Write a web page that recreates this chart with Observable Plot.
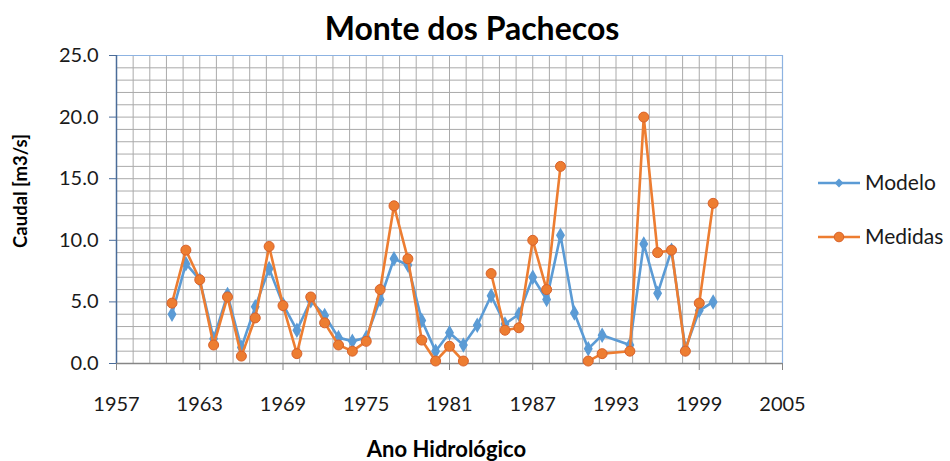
<!DOCTYPE html>
<html>
<head>
<meta charset="utf-8">
<script src="https://cdn.jsdelivr.net/npm/d3@7"></script>
<script src="https://cdn.jsdelivr.net/npm/@observablehq/plot@0.6"></script>
<style>
  html, body { margin: 0; padding: 0; background: #fff; }
  #chart svg { display: block; }
</style>
</head>
<body>
<div id="chart"></div>
<script>
// ---- Data ----
const years   = [1961,1962,1963,1964,1965,1966,1967,1968,1969,1970,
                 1971,1972,1973,1974,1975,1976,1977,1978,1979,1980,
                 1981,1982,1983,1984,1985,1986,1987,1988,1989,1990,
                 1991,1992,1994,1995,1996,1997,1998,1999,2000];
const modelo  = [4.0,8.1,6.8,2.0,5.6,1.3,4.6,7.7,4.8,2.7,
                 5.1,3.9,2.1,1.8,2.1,5.2,8.5,8.0,3.5,1.0,
                 2.5,1.5,3.1,5.5,3.2,4.0,7.0,5.2,10.4,4.1,
                 1.2,2.3,1.5,9.7,5.7,9.2,1.2,4.3,5.0];
const medidas = [4.9,9.2,6.8,1.5,5.4,0.6,3.7,9.5,4.7,0.8,
                 5.4,3.3,1.5,1.0,1.8,6.0,12.8,8.5,1.9,0.2,
                 1.4,0.2,null,7.3,2.7,2.9,10.0,6.0,16.0,null,
                 0.2,0.8,1.0,20.0,9.0,9.2,1.0,4.9,13.0];
const xTicks = [1957,1963,1969,1975,1981,1987,1993,1999,2005];
const yTicks = [0,5,10,15,20,25];
const seriesNames = ["Modelo","Medidas"];
const title = "Monte dos Pachecos";
const xLabel = "Ano Hidrológico";
const yLabel = "Caudal [m3/s]";

const blue = "#5b9bd5", orange = "#ed7d31";
const font = "Lato, 'Open Sans', sans-serif";

const modeloData = years.map((y, i) => ({year: y, v: modelo[i]}));
const medidasData = years.map((y, i) => ({year: y, v: medidas[i]}));

const gridXv = d3.range(0, 41).map(i => 1957 + i * 1.2);
const gridYv = d3.range(0, 26);

const W = 950, H = 461;
const mL = 116, mR = 168, mT = 55, mB = 98;

const plot = Plot.plot({
  width: W, height: H,
  marginLeft: mL, marginRight: mR, marginTop: mT, marginBottom: mB,
  style: {fontFamily: font, background: "#fff", color: "#1a1a1a"},
  x: {domain: [1957, 2005], axis: null},
  y: {domain: [0, 25], axis: null},
  marks: [
    Plot.ruleX(gridXv, {stroke: "#aaaaaa", strokeWidth: 1}),
    Plot.ruleY(gridYv, {stroke: "#aaaaaa", strokeWidth: 1}),
    Plot.ruleY([25], {stroke: "#8db3e2", strokeWidth: 1.2}),
    Plot.ruleX([2005], {stroke: "#8db3e2", strokeWidth: 1.2}),
    Plot.ruleY([0], {stroke: "#868686", strokeWidth: 1.3}),
    Plot.ruleX([1957], {stroke: "#4a6c99", strokeWidth: 1.5}),
    Plot.axisX({ticks: xTicks, tickFormat: d => String(d), tickSize: 7, tickPadding: 26, label: null,
                stroke: "#868686", fontSize: 20, fill: "#1a1a1a"}),
    Plot.axisY({ticks: yTicks, tickFormat: d => d.toFixed(1), tickSize: 7, tickPadding: 11, label: null,
                stroke: "#4a6c99", fontSize: 20, fill: "#1a1a1a"}),
    Plot.line(modeloData, {x: "year", y: "v", stroke: blue, strokeWidth: 2.6}),
    Plot.dot(modeloData, {x: "year", y: "v", symbol: "diamond", r: 3.8, fill: blue, stroke: blue}),
    Plot.line(medidasData, {x: "year", y: "v", stroke: orange, strokeWidth: 2.6}),
    Plot.dot(medidasData.filter(d => d.v != null), {x: "year", y: "v", r: 5, fill: orange, stroke: "#d9622b", strokeWidth: 1})
  ]
});

const svg = d3.select(plot);

// Titles
svg.append("text").attr("x", 472).attr("y", 40).attr("text-anchor", "middle")
  .attr("font-family", font).attr("font-size", 32).attr("font-weight", "bold").attr("fill", "#000").text(title);
svg.append("text").attr("x", 446.5).attr("y", 457).attr("text-anchor", "middle")
  .attr("font-family", font).attr("font-size", 22).attr("font-weight", "bold").attr("fill", "#000").text(xLabel);
svg.append("text").attr("transform", "translate(27,191) rotate(-90)").attr("text-anchor", "middle")
  .attr("font-family", font).attr("font-size", 18.5).attr("font-weight", "bold").attr("fill", "#000").text(yLabel);

// Legend
const legendY = [183, 237];
const colors = [blue, orange];
seriesNames.forEach((name, i) => {
  const g = svg.append("g");
  g.append("line").attr("x1", 818).attr("x2", 860).attr("y1", legendY[i]).attr("y2", legendY[i])
    .attr("stroke", colors[i]).attr("stroke-width", 2.6);
  if (i === 0) {
    g.append("path").attr("d", d3.symbol(d3.symbolDiamond2, 50)())
      .attr("transform", `translate(839,${legendY[i]})`).attr("fill", blue);
  } else {
    g.append("circle").attr("cx", 839).attr("cy", legendY[i]).attr("r", 4.8).attr("fill", orange).attr("stroke", "#d9622b");
  }
  g.append("text").attr("x", 865).attr("y", legendY[i]).attr("dy", "0.35em").attr("text-anchor", "start")
    .attr("font-size", 21).attr("fill", "#1a1a1a").attr("font-family", font).text(name);
});

document.getElementById("chart").appendChild(plot);
</script>
</body>
</html>
